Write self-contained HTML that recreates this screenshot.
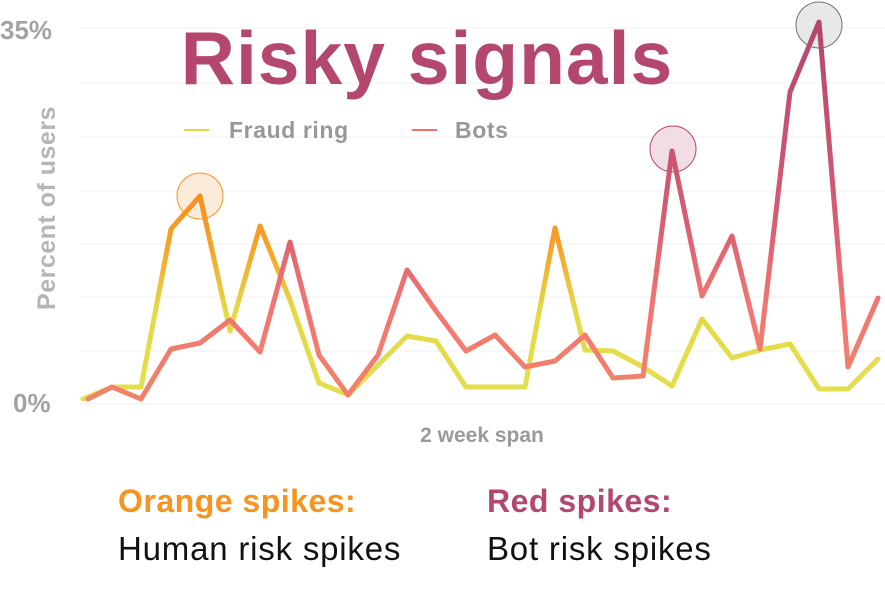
<!DOCTYPE html>
<html><head><meta charset="utf-8"><style>
body{margin:0;background:#fff;width:885px;height:601px;overflow:hidden;font-family:"Liberation Sans",sans-serif}
</style></head><body>
<svg width="885" height="601" viewBox="0 0 885 601" xmlns="http://www.w3.org/2000/svg">
<defs>
<linearGradient id="gy" gradientUnits="userSpaceOnUse" x1="0" y1="400" x2="0" y2="200">
<stop offset="0" stop-color="#e2e04b"/><stop offset="0.45" stop-color="#e6d845"/><stop offset="0.75" stop-color="#f5a52a"/><stop offset="1" stop-color="#f7901f"/></linearGradient>
<linearGradient id="gb" gradientUnits="userSpaceOnUse" x1="0" y1="400" x2="0" y2="30">
<stop offset="0" stop-color="#f0836a"/><stop offset="0.25" stop-color="#f37670"/><stop offset="0.5" stop-color="#d55c72"/><stop offset="1" stop-color="#b5466f"/></linearGradient>
</defs>
<g stroke="#f0f0f0" stroke-width="1">
<line x1="80" y1="28" x2="885" y2="28"/><line x1="80" y1="83" x2="885" y2="83"/><line x1="80" y1="137" x2="885" y2="137"/><line x1="80" y1="191" x2="885" y2="191"/><line x1="80" y1="244" x2="885" y2="244"/><line x1="80" y1="297" x2="885" y2="297"/><line x1="80" y1="351" x2="885" y2="351"/><line x1="80" y1="404" x2="885" y2="404"/>
</g>
<text x="0" y="39" font-size="26" font-weight="bold" fill="#a3a3a5">35%</text>
<text x="13" y="412" font-size="26" font-weight="bold" fill="#a3a3a5">0%</text>
<text transform="translate(55,208) rotate(-90)" text-anchor="middle" font-size="25" font-weight="bold" fill="#b5b5b7" letter-spacing="0.5">Percent of users</text>
<text x="482" y="442" text-anchor="middle" font-size="21" font-weight="bold" fill="#9a9a9c">2 week span</text>
<text x="427" y="84" text-anchor="middle" font-size="75" font-weight="bold" fill="#b3476f" letter-spacing="1">Risky signals</text>
<line x1="184" y1="130" x2="209" y2="130" stroke="#e0dc48" stroke-width="2"/>
<text x="229" y="138" font-size="23" font-weight="bold" fill="#98989a" letter-spacing="0.6">Fraud ring</text>
<line x1="412" y1="130" x2="437" y2="130" stroke="#f0716e" stroke-width="2"/>
<text x="455" y="138" font-size="23" font-weight="bold" fill="#98989a" letter-spacing="0.6">Bots</text>
<circle cx="200" cy="196" r="23" fill="#fdebd9" stroke="#f7941d" stroke-width="1"/>
<circle cx="673" cy="149" r="23" fill="#f0dde5" stroke="#b5466f" stroke-width="1"/>
<circle cx="819" cy="25" r="23" fill="#e8e8e8" stroke="#707070" stroke-width="1"/>
<polyline fill="none" stroke="url(#gy)" stroke-width="5" stroke-linejoin="round" stroke-linecap="round" points="83,399 112,387 141,387 171,229 200,196 230,331 260,226 290,300 319,383 348,395 378,365 407,336 436,341 466,387 495,387 525,387 555,228 585,350 613,351 643,367 672,386 702,319 732,358 760,350 790,344 819,389 848,389 878,359"/>
<polyline fill="none" stroke="url(#gb)" stroke-width="5" stroke-linejoin="round" stroke-linecap="round" points="88,399 112,387 141,399 171,349 200,343 230,320 260,352 290,242 319,355 348,395 378,355 407,270 436,311 466,351 495,335 525,367 555,361 585,335 613,378 643,376 672,151 702,296 732,236 760,349 790,92 819,22 848,367 878,298"/>
<text x="118" y="512" font-size="32" font-weight="bold" fill="#f7941d" letter-spacing="0.5">Orange spikes:</text>
<text x="118" y="560" font-size="33" fill="#111" letter-spacing="0.8">Human risk spikes</text>
<text x="487" y="512" font-size="32" font-weight="bold" fill="#b3476f" letter-spacing="0.5">Red spikes:</text>
<text x="487" y="560" font-size="33" fill="#111" letter-spacing="0.8">Bot risk spikes</text>
</svg>
</body></html>
